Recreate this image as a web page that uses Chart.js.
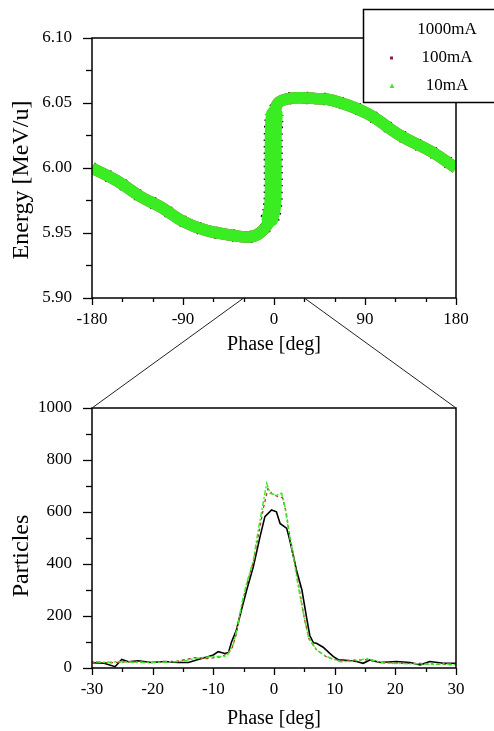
<!DOCTYPE html>
<html>
<head>
<meta charset="utf-8">
<script src="https://cdn.jsdelivr.net/npm/chart.js@4.4.1/dist/chart.umd.min.js"></script>
<style>
  body { margin: 0; background: #fff; width: 494px; height: 731px; overflow: hidden; position: relative; }
  canvas { position: absolute; left: 0; }
</style>
</head>
<body>
<canvas id="topChart" width="494" height="365" style="top:0"></canvas>
<canvas id="bottomChart" width="494" height="366" style="top:365px"></canvas>
<canvas id="zoomLines" width="494" height="731" style="top:0;pointer-events:none"></canvas>
<script>
/* ---- data ---- */
const seriesLabels = ["1000mA", "100mA", "10mA"];
const seriesColors = ["#000000", "#a83a2a", "#3aec22"];
const legendMarkColors = ["#000000", "#8a2040", "#3aec22"];

// top panel: centre line of the particle band (phase deg, energy MeV/u)
const bandPhase  = [-180, -155, -132, -112, -90, -67, -43, -24, -14, -6, -2, -0.8, -0.8, -0.6, 0.5, 4, 12, 24, 40, 58, 92, 125, 157, 180];
const bandEnergy = [6.000, 5.990, 5.978, 5.970, 5.959, 5.952, 5.9485, 5.947, 5.950, 5.957, 5.966, 5.982, 6.005, 6.030, 6.043, 6.050, 6.053, 6.054, 6.0535, 6.052, 6.042, 6.025, 6.012, 6.000];
// wider core near the synchronous phase
const corePhase  = [-4, -1.5, -0.8, -0.8, -0.6, 0.3];
const coreEnergy = [5.961, 5.970, 5.982, 6.005, 6.030, 6.041];

// bottom panel: phase histograms
const phase1000 = [-30, -28, -26.2, -25.1, -24, -22.4, -20.2, -18, -15.8, -14.1, -12.5, -10.8, -10, -9.2, -8.1, -7.5, -7, -6.2, -5.4, -4.5, -3.4, -2.3, -1.5, -0.4, 0.4, 1, 2.1, 2.6, 3.7, 4.6, 5.4, 5.9, 6.5, 7, 8.1, 9.2, 9.8, 10.6, 11.4, 13.6, 14.7, 15.8, 17.5, 20.2, 22.4, 24.1, 25.7, 27.9, 30];
const count1000 = [20, 18, 5, 33, 24, 28, 21, 25, 21, 21, 33, 44, 50, 63, 56, 60, 100, 146, 220, 300, 390, 505, 582, 608, 601, 556, 537, 492, 377, 300, 190, 125, 97, 95, 80, 56, 44, 32, 31, 25, 18, 31, 21, 25, 21, 12, 25, 18, 18];
const phase100 = [-30, -27, -24, -20, -16, -13, -11, -8.5, -7, -6.2, -5.4, -4.5, -3.4, -2.5, -1.7, -1, -0.3, 0.6, 1.4, 2, 2.6, 3.4, 4.2, 5, 5.8, 7, 8.8, 11, 13, 15, 18, 21, 24, 27, 30];
const count100 = [22, 20, 24, 22, 26, 40, 36, 44, 70, 130, 230, 320, 410, 520, 620, 690, 670, 660, 655, 600, 510, 410, 300, 190, 110, 70, 40, 28, 30, 32, 22, 18, 18, 14, 13];
const phase10 = [-30, -28, -25.7, -23, -20, -17, -15, -13, -10.3, -8.1, -7.5, -6.7, -5.9, -5.3, -4.5, -3.4, -2.6, -1.8, -1.2, -0.66, 0.44, 1.26, 1.8, 2.4, 3.2, 4, 4.85, 5.67, 7, 8.7, 10.9, 13, 15.3, 18, 21, 24, 26, 28, 30];
const count10 = [25, 22, 24, 22, 21, 24, 26, 37, 44, 44, 56, 92, 170, 249, 326, 415, 530, 633, 710, 672, 665, 672, 620, 530, 428, 313, 210, 120, 69, 44, 24, 26, 36, 19, 17, 16, 14, 16, 13];

const zoomRange = [-30, 30];
const topXTicks = { min: -180, max: 180, major: 90, minor: 30 };
const topYTicks = { min: 5.90, max: 6.10, major: 0.05, minor: 0.025 };
const botXTicks = { min: zoomRange[0], max: zoomRange[1], major: 10, minor: 5 };
const botYTicks = { min: 0, max: 1000, major: 200, minor: 100 };

const pts = (xs, ys) => xs.map((x, i) => ({ x, y: ys[i] }));
const SERIF = "'Liberation Serif', 'DejaVu Serif', serif";

Chart.defaults.font.family = SERIF;
Chart.defaults.color = "#000";

/* frame, outside tick marks (major longer than minor), rotated y title */
const framePlugin = {
  id: "frameTicks",
  afterDraw(chart, args, opts) {
    const { ctx, chartArea: a, scales } = chart;
    ctx.save();
    ctx.strokeStyle = "#000";
    ctx.lineWidth = 1.5;
    ctx.strokeRect(a.left, a.top, a.right - a.left, a.bottom - a.top);
    ctx.lineWidth = 1.3;
    const tx = opts.x, ty = opts.y;
    for (let i = 0, v = tx.min; v <= tx.max + 1e-9; i++, v = tx.min + i * tx.minor) {
      const px = Math.round(scales.x.getPixelForValue(v)) + 0.5;
      const r = (v - tx.min) / tx.major;
      const major = Math.abs(r - Math.round(r)) < 1e-6;
      ctx.beginPath();
      ctx.moveTo(px, a.bottom);
      ctx.lineTo(px, a.bottom + (major ? 7 : 4));
      ctx.stroke();
    }
    for (let i = 0, v = ty.min; v <= ty.max + 1e-9; i++, v = ty.min + i * ty.minor) {
      const py = Math.round(scales.y.getPixelForValue(v)) + 0.5;
      const r = (v - ty.min) / ty.major;
      const major = Math.abs(r - Math.round(r)) < 1e-6;
      ctx.beginPath();
      ctx.moveTo(a.left, py);
      ctx.lineTo(a.left - (major ? 9 : 6), py);
      ctx.stroke();
    }
    // y axis title
    ctx.translate(22, (a.top + a.bottom) / 2 + opts.titleShift);
    ctx.rotate(-Math.PI / 2);
    ctx.fillStyle = "#000";
    ctx.font = "24px " + SERIF;
    ctx.textAlign = "center";
    ctx.textBaseline = "middle";
    ctx.fillText(opts.yTitle, 0, 0);
    ctx.restore();
  }
};

/* boxed legend in the upper right corner */
const legendBoxPlugin = {
  id: "legendBox",
  afterDraw(chart) {
    const { ctx, chartArea: a } = chart;
    const left = a.right - 93, top = a.top - 29;
    ctx.save();
    ctx.fillStyle = "#fff";
    ctx.fillRect(left, top, 200, 93);
    ctx.strokeStyle = "#000";
    ctx.lineWidth = 1.5;
    ctx.strokeRect(left + 0.5, top + 0.5, 200, 93);
    ctx.font = "17px " + SERIF;
    ctx.textAlign = "center";
    ctx.textBaseline = "middle";
    seriesLabels.forEach((lab, i) => {
      const y = top + 21 + i * 28;
      ctx.fillStyle = "#000";
      ctx.fillText(lab, left + 84, y);
      ctx.fillStyle = legendMarkColors[i];
      if (i === 1) ctx.fillRect(left + 27, y - 1.5, 3, 3);
      if (i === 2) {
        ctx.beginPath();
        ctx.moveTo(left + 29, y - 2.5);
        ctx.lineTo(left + 31.5, y + 2);
        ctx.lineTo(left + 26.5, y + 2);
        ctx.closePath();
        ctx.fill();
      }
    });
    ctx.restore();
  }
};

function axisOpts(t, isX, fitSize, labelFn, title, titlePad) {
  return {
    type: "linear",
    min: t.min, max: t.max,
    grid: { display: false, drawTicks: false },
    border: { display: false },
    ticks: {
      stepSize: t.major,
      padding: isX ? 11 : 20,
      font: { size: 17 },
      callback: labelFn
    },
    title: {
      display: !!title, text: title || "",
      font: { size: 20 },
      padding: titlePad || 0
    },
    afterFit(scale) { if (isX) scale.height = fitSize; else scale.width = fitSize; }
  };
}

const topChart = new Chart(document.getElementById("topChart"), {
  type: "scatter",
  data: {
    datasets: [
      { label: seriesLabels[2], data: pts(corePhase, coreEnergy), borderColor: seriesColors[2], borderWidth: 17, borderCapStyle: "round" },
      { label: seriesLabels[2], data: pts(bandPhase, bandEnergy), borderColor: seriesColors[2], borderWidth: 11.5 },
      { label: seriesLabels[1], data: pts(bandPhase, bandEnergy), borderColor: seriesColors[1], borderWidth: 11.5 },
      { label: seriesLabels[0], data: pts(corePhase, coreEnergy), borderColor: seriesColors[0], borderWidth: 19, borderDash: [1.5, 5] },
      { label: seriesLabels[0], data: pts(bandPhase, bandEnergy), borderColor: seriesColors[0], borderWidth: 12.5, borderDash: [1.5, 16] }
    ].map(d => Object.assign({ showLine: true, pointRadius: 0, tension: 0.4, borderCapStyle: "butt", borderJoinStyle: "round" }, d))
  },
  options: {
    responsive: false,
    animation: false,
    layout: { padding: { top: 38, right: 38, left: 0, bottom: 0 } },
    plugins: {
      legend: { display: false },
      tooltip: { enabled: false },
      frameTicks: { x: topXTicks, y: topYTicks, yTitle: "Energy [MeV/u]", titleShift: 12 }
    },
    scales: {
      x: axisOpts(topXTicks, true, 67, v => String(v), "Phase [deg]", { bottom: 8 }),
      y: axisOpts(topYTicks, false, 92, v => v.toFixed(2))
    }
  },
  plugins: [framePlugin, legendBoxPlugin]
});

const bottomChart = new Chart(document.getElementById("bottomChart"), {
  type: "scatter",
  data: {
    datasets: [
      { label: seriesLabels[2], data: pts(phase10, count10), borderColor: seriesColors[2], borderWidth: 1.5, borderDash: [2, 2, 5, 2] },
      { label: seriesLabels[1], data: pts(phase100, count100), borderColor: seriesColors[1], borderWidth: 1.3, borderDash: [3, 3] },
      { label: seriesLabels[0], data: pts(phase1000, count1000), borderColor: seriesColors[0], borderWidth: 1.6 }
    ].map(d => Object.assign(d, { showLine: true, pointRadius: 0, tension: 0 }))
  },
  options: {
    responsive: false,
    animation: false,
    layout: { padding: { top: 43, right: 38, left: 0, bottom: 0 } },
    plugins: {
      legend: { display: false },
      tooltip: { enabled: false },
      frameTicks: { x: botXTicks, y: botYTicks, yTitle: "Particles", titleShift: 18 }
    },
    scales: {
      x: axisOpts(botXTicks, true, 63, v => String(v), "Phase [deg]", { bottom: 0 }),
      y: axisOpts(botYTicks, false, 92, v => String(v))
    }
  },
  plugins: [framePlugin]
});

/* zoom lines from the top phase window to the lower panel corners */
(function drawZoomLines() {
  const ctx = document.getElementById("zoomLines").getContext("2d");
  const offY = 365;
  const ta = topChart.chartArea, ba = bottomChart.chartArea;
  const x0 = topChart.scales.x.getPixelForValue(zoomRange[0]);
  const x1 = topChart.scales.x.getPixelForValue(zoomRange[1]);
  ctx.strokeStyle = "#222";
  ctx.lineWidth = 1;
  ctx.beginPath();
  ctx.moveTo(x0, ta.bottom);
  ctx.lineTo(ba.left, ba.top + offY);
  ctx.moveTo(x1, ta.bottom);
  ctx.lineTo(ba.right, ba.top + offY);
  ctx.stroke();
})();
</script>
</body>
</html>
